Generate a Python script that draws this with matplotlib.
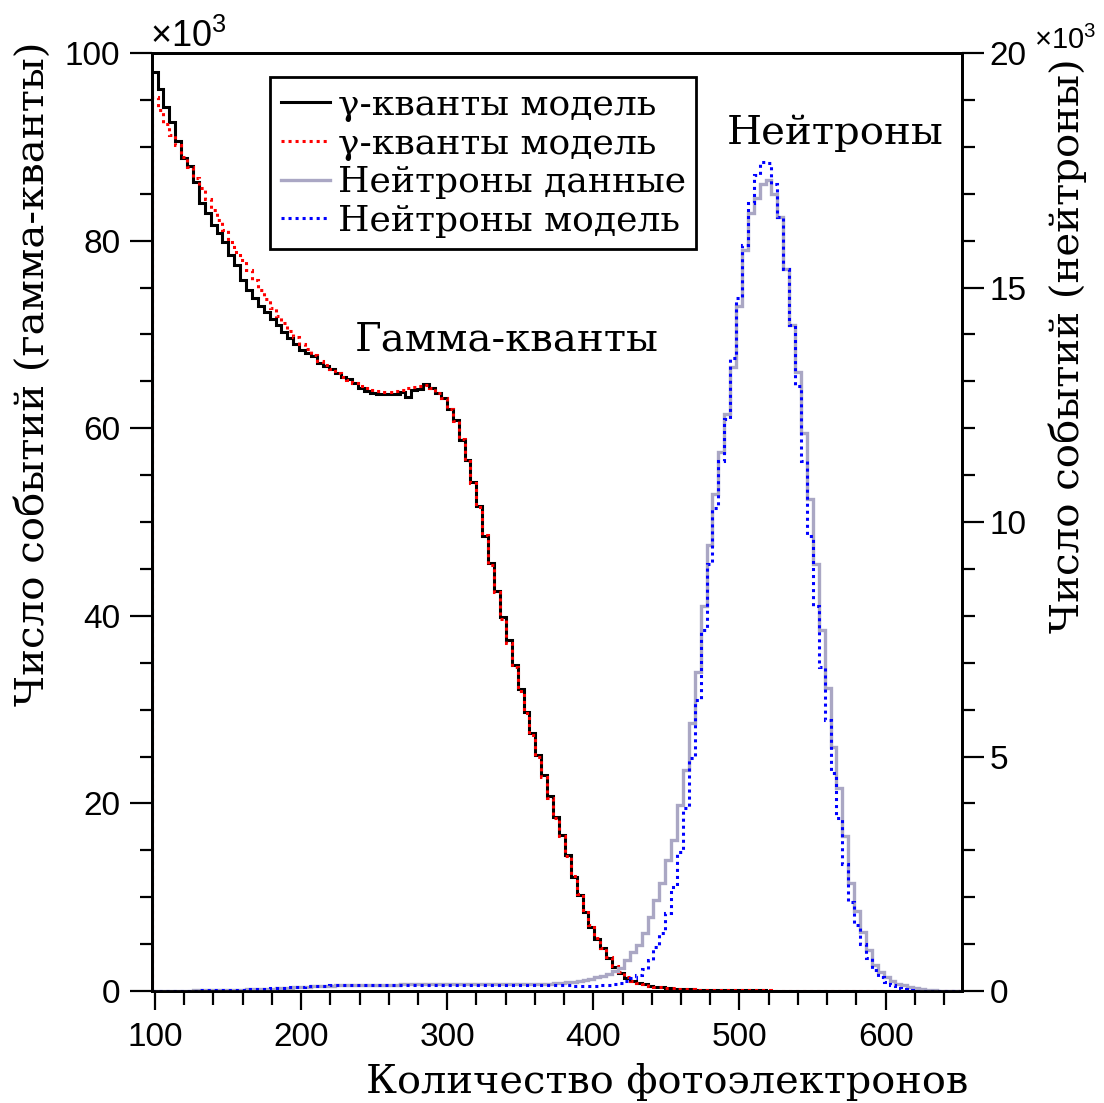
import numpy as np
import matplotlib
matplotlib.use("Agg")
import matplotlib.pyplot as plt
from matplotlib.ticker import MultipleLocator
from matplotlib.lines import Line2D

plt.rcParams['mathtext.fontset'] = 'custom'
plt.rcParams['mathtext.rm'] = 'Liberation Sans'

# histogram binning (photoelectrons)
bin_start = 97.7
bin_width = 4.04
n_bins = 137
edges = bin_start + bin_width * np.arange(n_bins + 1)

# gamma counts, x10^3 (left axis)
gamma_data = [
    98.0, 96.2, 94.2, 92.6, 90.6, 88.8, 88.0, 86.3, 84.0, 82.9,
    81.7, 80.8, 79.9, 78.5, 77.4, 75.8, 74.7, 73.9, 73.0, 72.4,
    71.6, 71.0, 70.3, 69.6, 69.0, 68.3, 68.0, 67.7, 67.0, 66.6,
    66.3, 65.9, 65.5, 65.2, 64.8, 64.3, 64.0, 63.8, 63.7, 63.7,
    63.6, 63.6, 63.9, 63.3, 64.1, 64.2, 64.7, 64.3, 63.8, 63.2,
    62.1, 60.9, 58.8, 56.6, 54.3, 51.7, 48.5, 45.6, 42.7, 39.9,
    37.4, 34.8, 32.2, 29.8, 27.5, 25.2, 23.0, 20.8, 18.6, 16.6,
    14.5, 12.2, 10.2, 8.45, 6.85, 5.6, 4.55, 3.5, 2.6, 1.95,
    1.4, 1.1, 0.85, 0.7, 0.55, 0.45, 0.38, 0.32, 0.27, 0.23,
    0.2, 0.17, 0.15, 0.13, 0.12, 0.11, 0.1, 0.09, 0.085, 0.08,
    0.075, 0.07, 0.065, 0.06, 0.055, 0.05, 0.048, 0.045, 0.042, 0.04,
    0.038, 0.035, 0.032, 0.03, 0.028, 0.025, 0.022, 0.02, 0.018, 0.015,
    0.013, 0.011, 0.01, 0.008, 0.007, 0.006, 0.005, 0.004, 0.003, 0.002,
    0.002, 0.001, 0.001, 0.0, 0.0, 0.0, 0.0,
]
gamma_model = [
    95.3, 93.9, 92.4, 91.3, 90.2, 88.9, 87.8, 86.7, 85.6, 84.4,
    83.3, 82.2, 81.1, 79.9, 78.8, 77.9, 76.9, 75.8, 74.7, 73.8,
    72.8, 72.0, 71.2, 70.4, 69.7, 69.0, 68.4, 67.8, 67.2, 66.7,
    66.3, 65.9, 65.5, 65.1, 64.8, 64.5, 64.3, 64.1, 64.0, 63.9,
    63.9, 64.0, 64.1, 64.3, 64.4, 64.5, 64.6, 64.3, 63.8, 63.2,
    62.0, 60.8, 58.9, 56.5, 54.2, 51.6, 48.6, 45.4, 42.5, 39.7,
    37.1, 34.6, 32.0, 29.6, 27.3, 25.0, 22.8, 20.6, 18.5, 16.5,
    14.4, 12.3, 10.3, 8.6, 7.0, 5.7, 4.6, 3.6, 2.7, 2.0,
    1.45, 1.12, 0.88, 0.72, 0.57, 0.47, 0.39, 0.33, 0.28, 0.24,
    0.21, 0.18, 0.16, 0.14, 0.125, 0.115, 0.105, 0.095, 0.09, 0.085,
    0.08, 0.075, 0.07, 0.065, 0.06, 0.055, 0.052, 0.048, 0.045, 0.042,
    0.04, 0.037, 0.034, 0.032, 0.03, 0.027, 0.024, 0.022, 0.02, 0.017,
    0.015, 0.013, 0.011, 0.009, 0.008, 0.007, 0.006, 0.005, 0.004, 0.003,
    0.002, 0.002, 0.001, 0.001, 0.0, 0.0, 0.0,
]

# neutron counts, x10^3 (right axis)
neutron_data = [
    0.01, 0.01, 0.01, 0.01, 0.01, 0.01, 0.01, 0.02, 0.02, 0.02,
    0.02, 0.02, 0.03, 0.03, 0.03, 0.03, 0.04, 0.04, 0.04, 0.05,
    0.05, 0.06, 0.06, 0.07, 0.08, 0.08, 0.09, 0.10, 0.10, 0.11,
    0.11, 0.12, 0.12, 0.12, 0.13, 0.13, 0.13, 0.13, 0.13, 0.13,
    0.13, 0.13, 0.14, 0.14, 0.14, 0.14, 0.14, 0.14, 0.14, 0.14,
    0.14, 0.14, 0.14, 0.14, 0.14, 0.14, 0.14, 0.14, 0.14, 0.14,
    0.14, 0.14, 0.14, 0.14, 0.15, 0.15, 0.15, 0.16, 0.17, 0.18,
    0.19, 0.20, 0.22, 0.24, 0.26, 0.29, 0.32, 0.36, 0.42, 0.50,
    0.66, 0.84, 0.98, 1.23, 1.58, 1.94, 2.3, 2.79, 3.22, 3.97,
    4.71, 5.71, 6.8, 8.2, 9.5, 10.6, 11.5, 12.3, 13.3, 14.6,
    15.8, 16.6, 16.9, 17.2, 17.3, 17.0, 16.5, 15.4, 14.2, 13.2,
    11.9, 10.5, 9.1, 7.7, 6.46, 5.2, 4.32, 3.3, 2.3, 1.7,
    1.26, 0.87, 0.55, 0.4, 0.3, 0.22, 0.16, 0.12, 0.08, 0.06,
    0.04, 0.03, 0.02, 0.01, 0.005, 0.005, 0.005,
]
neutron_model = [
    0.01, 0.01, 0.01, 0.01, 0.01, 0.01, 0.01, 0.01, 0.02, 0.02,
    0.02, 0.02, 0.02, 0.03, 0.03, 0.03, 0.04, 0.04, 0.05, 0.05,
    0.06, 0.06, 0.07, 0.08, 0.08, 0.09, 0.10, 0.10, 0.11, 0.11,
    0.12, 0.12, 0.12, 0.13, 0.13, 0.13, 0.13, 0.13, 0.13, 0.13,
    0.13, 0.13, 0.13, 0.13, 0.13, 0.13, 0.13, 0.13, 0.13, 0.13,
    0.13, 0.13, 0.13, 0.13, 0.13, 0.13, 0.13, 0.13, 0.13, 0.13,
    0.13, 0.13, 0.13, 0.13, 0.13, 0.12, 0.12, 0.12, 0.12, 0.12,
    0.12, 0.11, 0.11, 0.11, 0.11, 0.11, 0.12, 0.13, 0.14, 0.17,
    0.21, 0.27, 0.35, 0.46, 0.66, 0.94, 1.23, 1.66, 2.22, 2.97,
    3.9, 4.96, 6.2, 7.7, 9.1, 10.3, 11.3, 12.2, 13.5, 14.77,
    15.9, 16.8, 17.4, 17.68, 17.65, 17.2, 16.5, 15.4, 14.2, 12.9,
    11.3, 9.7, 8.2, 6.9, 5.78, 4.64, 3.68, 2.7, 1.9, 1.4,
    1.0, 0.7, 0.45, 0.3, 0.2, 0.12, 0.07, 0.04, 0.02, 0.01,
    0.01, 0.005, 0.005, 0.0, 0.0, 0.0, 0.0,
]

labels = ['γ-кванты модель', 'γ-кванты модель', 'Нейтроны данные', 'Нейтроны модель']
grey = '#aaa7c4'
dots = (0, (1, 1.3))
serif = ['DejaVu Serif']
sans = ['Liberation Sans', 'DejaVu Sans']

fig = plt.figure(figsize=(11.04, 11.03), dpi=100)
ax = fig.add_axes([0.138, 0.1015, 0.7334, 0.8504])
ax2 = ax.twinx()

ax.stairs(gamma_data, edges, color='black', lw=2.2)
ax.stairs(gamma_model, edges, color='red', lw=2.2, linestyle=dots)
ax2.stairs(neutron_data, edges, color=grey, lw=2.4)
ax2.stairs(neutron_model, edges, color='blue', lw=2.2, linestyle=dots)

ax.set_xlim(98.2, 652.3)
ax.set_ylim(0, 100)
ax2.set_ylim(0, 20)

ax.xaxis.set_major_locator(MultipleLocator(100))
ax.xaxis.set_minor_locator(MultipleLocator(20))
ax.yaxis.set_major_locator(MultipleLocator(20))
ax.yaxis.set_minor_locator(MultipleLocator(5))
ax2.yaxis.set_major_locator(MultipleLocator(5))
ax2.yaxis.set_minor_locator(MultipleLocator(1))

for a in (ax, ax2):
    for s in a.spines.values():
        s.set_linewidth(2)
ax.tick_params(axis='y', which='major', direction='out', length=16, width=1.6, pad=7, labelsize=24)
ax.tick_params(axis='y', which='minor', direction='out', length=9, width=1.6)
ax.tick_params(axis='x', which='major', direction='out', length=14, width=1.6, pad=8, labelsize=24)
ax.tick_params(axis='x', which='minor', direction='out', length=10, width=1.6)
ax2.tick_params(axis='y', which='major', direction='out', length=16, width=1.6, pad=4, labelsize=24)
ax2.tick_params(axis='y', which='minor', direction='out', length=9, width=1.6)
for lab in ax.get_xticklabels() + ax.get_yticklabels() + ax2.get_yticklabels():
    lab.set_family(sans)

fig.text(150 / 1104, 1 - 47 / 1103, r'$\times10^{3}$', fontsize=26, ha='left', va='baseline')
fig.text(1034 / 1104, 1 - 49 / 1103, r'$\times10^{3}$', fontsize=21, ha='left', va='baseline')

fig.text(968 / 1104, 1 - 1093 / 1103, 'Количество фотоэлектронов', family=serif,
         fontsize=28.7, ha='right', va='baseline')
fig.text(33 / 1104, 1 - 42 / 1103, 'Число событий (гамма-кванты)', family=serif,
         fontsize=29, rotation=90, ha='center', va='top')
fig.text(1068 / 1104, 1 - 58 / 1103, 'Число событий (нейтроны)', family=serif,
         fontsize=29, rotation=90, ha='center', va='top')

ax.text(0.438, 0.694, 'Гамма-кванты', transform=ax.transAxes, family=serif,
        fontsize=29, ha='center', va='center')
ax.text(0.843, 0.915, 'Нейтроны', transform=ax.transAxes, family=serif,
        fontsize=29, ha='center', va='center')

handles = [
    Line2D([], [], color='black', lw=2.2),
    Line2D([], [], color='red', lw=2.2, linestyle=dots),
    Line2D([], [], color=grey, lw=2.4),
    Line2D([], [], color='blue', lw=2.2, linestyle=dots),
]
leg = ax2.legend(handles, labels, loc='upper left',
                 bbox_to_anchor=(270 / 1104, 1 - 77 / 1103), bbox_transform=fig.transFigure,
                 borderaxespad=0, prop={'family': serif, 'size': 26},
                 fancybox=False, framealpha=1, edgecolor='black',
                 handlelength=1.35, handletextpad=0.22, labelspacing=0.13,
                 borderpad=0.3)
leg.get_frame().set_linewidth(2)

fig.savefig('out.png', dpi=100)
